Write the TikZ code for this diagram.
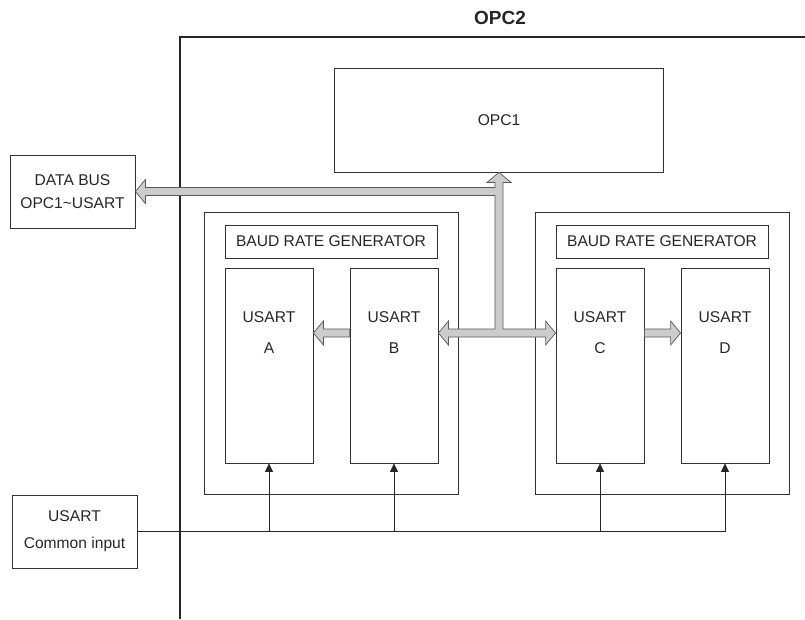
\documentclass[tikz,border=0pt]{standalone}
\usepackage{fontspec}
\setmainfont{Liberation Sans}
\usepackage{tikz}
\usetikzlibrary{arrows.meta,calc}

\tikzset{
  box/.style={draw=black!80, line width=0.8pt, rectangle, inner sep=0pt},
  txt/.style={font=\fontsize{15.6}{18}\selectfont, text=black!85, align=center},
  bus/.style={draw=black!65, fill=black!20, line width=0.7pt, line join=miter},
  wire/.style={draw=black!85, line width=0.8pt},
}

\begin{document}
\begin{tikzpicture}[line cap=butt,line join=miter,>={Triangle[length=8.5pt,width=8pt]},x=1pt,y=-1pt]
\useasboundingbox (0,0) rectangle (805,619);
\clip (0,0) rectangle (805,619);
% outer frame of OPC2
\draw[black!85, line width=1.8pt] (180,619) -- (180,37) -- (805,37);
\node[txt, font=\fontsize{19}{22}\selectfont\bfseries] (opc2lbl) at (500,18) {OPC2};
\node[box, txt, minimum width=329pt, minimum height=104pt] (opc1) at (499,120) {OPC1};
\node[box, txt, minimum width=125pt, minimum height=73pt, font=\fontsize{15.6}{23}\selectfont] (dbus) at (72.5,191.5) {DATA BUS\\OPC1\textasciitilde USART};
\node[box, txt, minimum width=125pt, minimum height=73pt, font=\fontsize{15.6}{27}\selectfont] (cin) at (74.5,531.5) {USART\\Common input};
% two USART groups
\node[box, minimum width=254pt, minimum height=282pt] (grpl) at (331,353) {};
\node[box, minimum width=254pt, minimum height=282pt] (grpr) at (662,353) {};
\node[box, txt, minimum width=212pt, minimum height=33pt] (brgl) at (331,241.5) {BAUD RATE GENERATOR};
\node[box, txt, minimum width=212pt, minimum height=33pt] (brgr) at (662,241.5) {BAUD RATE GENERATOR};
\node[box, minimum width=88pt, minimum height=195pt] (ua) at (269,365.5) {};
\node[box, minimum width=88pt, minimum height=195pt] (ub) at (394,365.5) {};
\node[box, minimum width=88pt, minimum height=195pt] (uc) at (600,365.5) {};
\node[box, minimum width=88pt, minimum height=195pt] (ud) at (725,365.5) {};
\node[txt, font=\fontsize{15.6}{31}\selectfont] (ualbl) at (269,332.5) {USART\\A};
\node[txt, font=\fontsize{15.6}{31}\selectfont] (ublbl) at (394,332.5) {USART\\B};
\node[txt, font=\fontsize{15.6}{31}\selectfont] (uclbl) at (600,332.5) {USART\\C};
\node[txt, font=\fontsize{15.6}{31}\selectfont] (udlbl) at (725,332.5) {USART\\D};
\coordinate (jn) at (499,333);
% data bus
\draw[bus] (opc1.south) -- ++(12,10) -- ++(-8,0) -- ($(jn)+(4,-4)$)
  -- ($(uc.west |- jn)+(-10,-4)$) -- ++(0,-8) -- (uc.west |- jn) -- ++(-10,12) -- ++(0,-8)
  -- ($(ub.east |- jn)+(10,4)$) -- ++(0,8) -- (ub.east |- jn) -- ++(10,-12) -- ++(0,8)
  -- ($(jn)+(-4,-4)$) -- ($(jn |- dbus.east)+(-4,4)$)
  -- ($(dbus.east)+(10,4)$) -- ++(0,8) -- (dbus.east) -- ++(10,-12) -- ++(0,8)
  -- ($(jn |- dbus.east)+(-4,-4)$) -- ($(opc1.south)+(-4,10)$) -- ++(-8,0) -- cycle;
\draw[bus] ($(ub.west |- jn)+(0,-4)$) -- ($(ua.east |- jn)+(10,-4)$) -- ++(0,-8)
  -- (ua.east |- jn) -- ++(10,12) -- ++(0,-8) -- ($(ub.west |- jn)+(0,4)$) -- cycle;
\draw[bus] ($(uc.east |- jn)+(0,-4)$) -- ($(ud.west |- jn)+(-10,-4)$) -- ++(0,-8)
  -- (ud.west |- jn) -- ++(-10,12) -- ++(0,-8) -- ($(uc.east |- jn)+(0,4)$) -- cycle;
% common input
\draw[wire] (cin.east) -- (ud.south |- cin.east);
\draw[wire,->] (ua.south |- cin.east) -- (ua.south);
\draw[wire,->] (ub.south |- cin.east) -- (ub.south);
\draw[wire,->] (uc.south |- cin.east) -- (uc.south);
\draw[wire,->] (ud.south |- cin.east) -- (ud.south);
\end{tikzpicture}
\end{document}
